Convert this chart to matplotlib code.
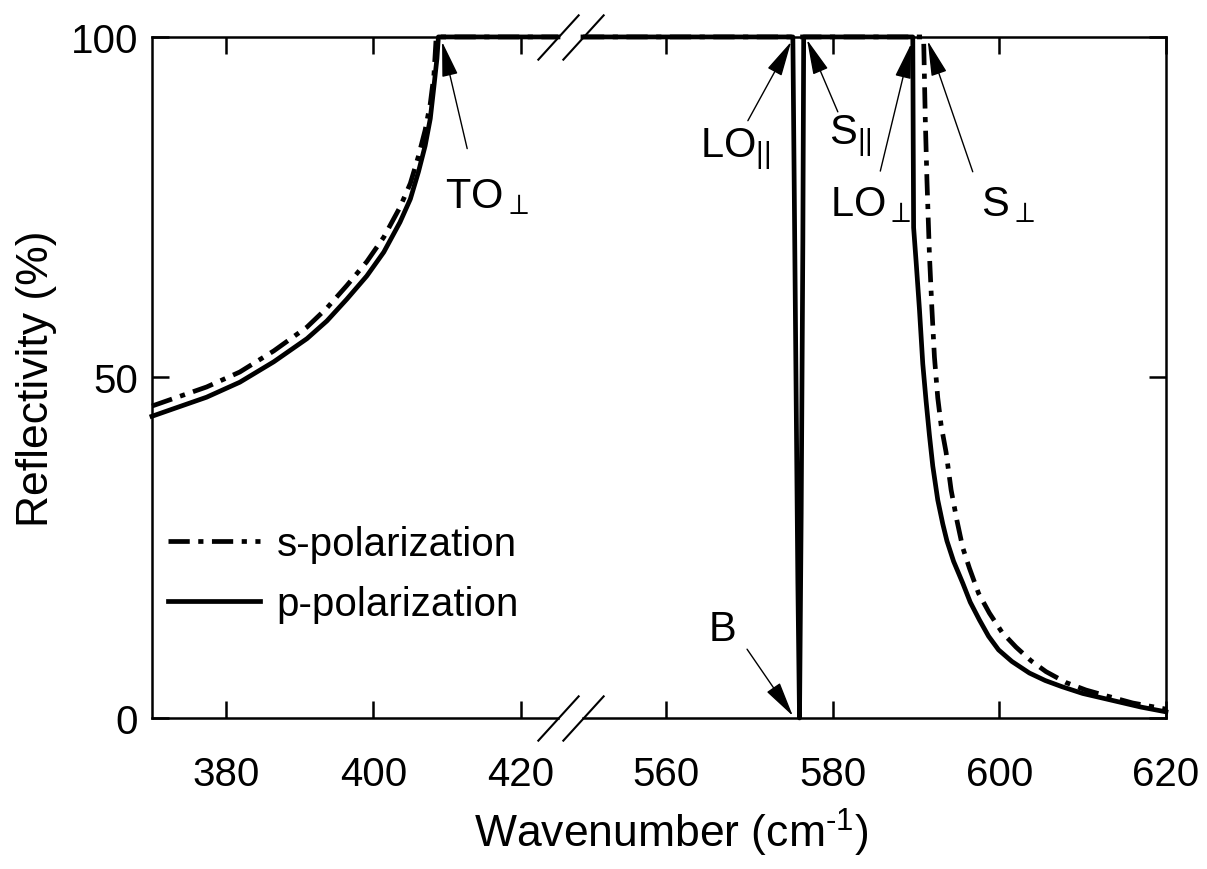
import matplotlib
matplotlib.use('Agg')
import matplotlib.pyplot as plt

plt.rcParams['font.family'] = ['Liberation Sans', 'DejaVu Sans']
plt.rcParams['mathtext.fontset'] = 'custom'
plt.rcParams['mathtext.rm'] = 'Liberation Sans'
plt.rcParams['mathtext.it'] = 'Liberation Sans'
plt.rcParams['mathtext.bf'] = 'Liberation Sans'

# low-wavenumber segment (370-425 cm-1)
wn_low_s = [370, 372.9, 377.4, 381.9, 386.5, 391.0, 393.7, 396.4, 399.1, 401.4, 403.6, 405.0,
            406.1, 407.0, 407.7, 408.2, 408.5, 425]
r_low_s = [45.8, 46.9, 48.6, 50.8, 53.9, 57.4, 60.2, 63.5, 67.0, 70.6, 75.0, 78.5,
           82.5, 86.3, 90.2, 94.5, 100, 100]
wn_low_p = [370, 372.9, 377.4, 381.9, 386.5, 391.0, 393.7, 396.4, 399.1, 401.4, 403.6, 405.0,
            406.1, 407.0, 407.7, 408.2, 408.6, 408.8, 425]
r_low_p = [44.3, 45.4, 47.1, 49.3, 52.3, 55.7, 58.3, 61.5, 64.9, 68.4, 72.8, 76.2,
           80.2, 84.0, 88.0, 92.8, 96.8, 100, 100]

# high-wavenumber segment (550-620 cm-1)
wn_high_s = [550, 590.9, 591.1, 591.3, 591.6, 591.9, 592.2, 592.6, 593.0, 593.6, 594.2, 594.9,
             595.6, 596.4, 597.5, 598.8, 600.3, 602.0, 603.8, 605.6, 608.0, 610.4, 613.0, 616.0, 620]
r_high_s = [100, 100, 88, 79, 68, 60, 53, 47, 43, 39, 33.5, 29,
            25, 22, 18.3, 15.4, 12.6, 10.4, 8.4, 6.8, 5.2, 4.1, 3.2, 2.2, 1.3]
wn_high_p = [550, 575.2, 575.5, 575.8, 576.0, 576.2, 576.4, 576.5, 589.6, 589.65, 589.7, 590.0,
             590.4, 590.8, 591.2, 591.6, 592.0, 592.6, 593.2, 593.7, 594.5, 595.6, 596.5, 597.6,
             598.7, 599.9, 601.5, 603.6, 605.5, 607.5, 610.0, 613.5, 617.0, 620]
r_high_p = [100, 100, 60, 20, 0, 30, 70, 100, 100, 85, 72, 67,
            60, 52, 46.5, 41.5, 37, 32, 28.5, 26, 23, 19.8, 17, 14.4,
            12, 10, 8.3, 6.6, 5.5, 4.6, 3.6, 2.6, 1.6, 0.9]

ticks_low = [380, 400, 420]
ticks_high = [560, 580, 600, 620]
yticks = [0, 50, 100]

fig = plt.figure(figsize=(12.07, 8.7), dpi=100)
ax1 = fig.add_axes([0.1259, 0.1736, 0.3364, 0.7828])
ax2 = fig.add_axes([0.4830, 0.1736, 0.4830, 0.7828])

s_dash = (4.5, 1.8, 1.1, 1.8)
lw = 3.4

ax1.plot(wn_low_s, r_low_s, color='black', lw=lw, dashes=s_dash, clip_on=False, label='s-polarization')
ax1.plot(wn_low_p, r_low_p, color='black', lw=lw, clip_on=False, label='p-polarization')
ax2.plot(wn_high_s, r_high_s, color='black', lw=lw, dashes=s_dash, clip_on=False)
ax2.plot(wn_high_p, r_high_p, color='black', lw=lw, clip_on=False)

ax1.set_xlim(370, 425)
ax2.set_xlim(550, 620)
for ax in (ax1, ax2):
    ax.set_ylim(0, 100)
    for sp in ax.spines.values():
        sp.set_linewidth(1.8)
    ax.tick_params(direction='in', length=12, width=1.8, labelsize=29, pad=10)
    ax.tick_params(axis='x', top=True, pad=27)

ax1.set_xticks(ticks_low)
ax2.set_xticks(ticks_high)
ax1.set_yticks(yticks)
ax2.set_yticks(yticks)
ax1.spines['right'].set_visible(False)
ax2.spines['left'].set_visible(False)
ax1.tick_params(axis='y', right=False)
ax2.tick_params(axis='y', left=False, right=True, labelleft=False)

# break marks
brk = dict(marker=[(-0.91, -1), (0.91, 1)], markersize=33, linestyle='none',
           color='black', mew=1.5, clip_on=False)
ax1.plot([1, 1], [0, 1], transform=ax1.transAxes, **brk)
ax2.plot([0, 0], [0, 1], transform=ax2.transAxes, **brk)

ax1.set_ylabel('Reflectivity (%)', fontsize=32)
ax1.yaxis.set_label_coords(-0.234, 0.5)
fig.text(0.556, 0.0253, r'Wavenumber (cm$^{\text{-1}}$)', fontsize=32, ha='center', va='baseline')

leg = ax1.legend(loc='upper left', bbox_to_anchor=(0.139, 0.395), bbox_transform=fig.transFigure,
                 frameon=False, fontsize=29, handlelength=2.3, handletextpad=0.4,
                 labelspacing=0.53, borderpad=0, borderaxespad=0)

arrow = dict(arrowstyle='-|>,head_length=1.1,head_width=0.25', color='black', lw=1,
             mutation_scale=20, shrinkA=0, shrinkB=0)
fs = 30

ax1.annotate('', xy=(409.3, 99.3), xytext=(412.7, 83.6), arrowprops=arrow, annotation_clip=False)
ax1.text(415.3, 76.7, r'TO$_{\perp}$', fontsize=fs, ha='center', va='center')

ax2.annotate('', xy=(575.0, 99.3), xytext=(569.8, 87.7), arrowprops=arrow)
ax2.text(568.3, 83.6, r'LO$_{||}$', fontsize=fs, ha='center', va='center')

ax2.annotate('', xy=(576.9, 99.6), xytext=(580.6, 89.0), arrowprops=arrow)
ax2.text(582.1, 85.5, r'S$_{||}$', fontsize=fs, ha='center', va='center')

ax2.annotate('', xy=(589.4, 99.0), xytext=(585.7, 80.3), arrowprops=arrow)
ax2.text(584.5, 75.5, r'LO$_{\perp}$', fontsize=fs, ha='center', va='center')

ax2.annotate('', xy=(591.4, 99.4), xytext=(596.8, 80.2), arrowprops=arrow)
ax2.text(601.0, 75.5, r'S$_{\perp}$', fontsize=fs, ha='center', va='center')

ax2.annotate('', xy=(575.2, 0.3), xytext=(569.7, 10.1), arrowprops=arrow)
ax2.text(566.7, 13.1, 'B', fontsize=fs, ha='center', va='center')

fig.savefig('out.png', dpi=100)
